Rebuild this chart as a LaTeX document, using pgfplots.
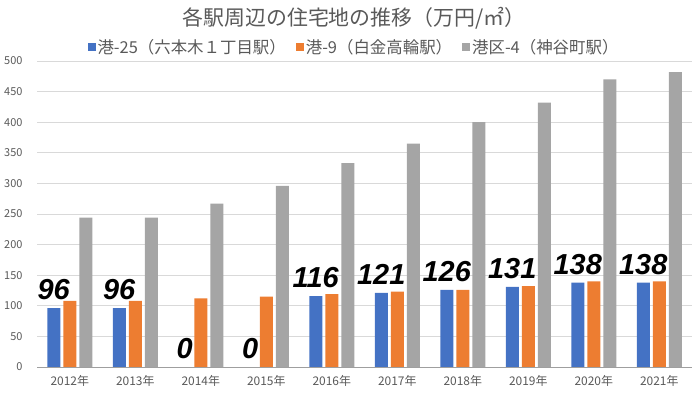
\documentclass[border=0pt]{standalone}
\usepackage{pgfplots}
\pgfplotsset{compat=1.18}
\usepackage{fontspec}
\setmainfont{Noto Sans CJK JP}
\newfontfamily\labfont{Liberation Sans}
\definecolor{cblue}{HTML}{4472C4}
\definecolor{corange}{HTML}{ED7D31}
\definecolor{cgray}{HTML}{A5A5A5}
\definecolor{txtgray}{HTML}{595959}
\definecolor{gridgray}{HTML}{D9D9D9}
\pgfplotstableread{
x blue orange gray
0 96 108 244
1 96 108 244
2 0 112 267
3 0 115 296
4 116 119 333
5 121 123 365
6 126 126 400
7 131 132 432
8 138 140 470
9 138 140 482
}\data
\begin{document}
\begin{tikzpicture}
\begin{axis}[
  at={(0,0)}, anchor=south west,
  scale only axis, width=655bp, height=306bp,
  ymin=0, ymax=500, ytick={0,50,...,500},
  xmin=-0.5, xmax=9.5, xtick={0,...,9},
  xticklabels={2012年,2013年,2014年,2015年,2016年,2017年,2018年,2019年,2020年,2021年},
  ybar=3bp, bar width=13bp,
  axis lines*=left,
  x axis line style={-, color=gray!75, line width=0.9pt},
  y axis line style={draw=none},
  major tick length=0pt,
  ymajorgrids, grid style={color=gridgray, line width=0.8pt},
  /pgf/number format/assume math mode=true,
  yticklabel style={font=\fontsize{11}{11}\selectfont, color=txtgray, xshift=-11bp},
  xticklabel style={font=\fontsize{12}{12}\selectfont, color=txtgray, yshift=-5bp},
  legend columns=-1,
  legend style={at={(0.484,1.046)}, anchor=center, draw=none, fill=none,
    font=\fontsize{16.5}{16.5}\selectfont, text=txtgray,
    /tikz/every even column/.append style={column sep=8bp}},
  legend image code/.code={\fill[#1, draw=none] (0bp,-4bp) rectangle (8bp,4bp);},
]
\addplot[fill=cblue, draw=none,
  nodes near coords,
  every node near coord/.append style={font=\labfont\bfseries\itshape\fontsize{29}{29}\selectfont, color=black, anchor=south, yshift=6bp, inner sep=2bp},
  ] table[x=x, y=blue] {\data};
\addlegendentry{港-25（六本木１丁目駅）}
\addplot[fill=corange, draw=none] table[x=x, y=orange] {\data};
\addlegendentry{港-9（白金高輪駅）}
\addplot[fill=cgray, draw=none] table[x=x, y=gray] {\data};
\addlegendentry{港区-4（神谷町駅）}
\end{axis}
\node[font=\fontsize{21}{21}\selectfont, color=txtgray] at (317bp,349bp) {各駅周辺の住宅地の推移（万円/㎡）};
\pgfresetboundingbox
\path (-37bp,-27bp) rectangle (663bp,367bp);
\end{tikzpicture}
\end{document}
